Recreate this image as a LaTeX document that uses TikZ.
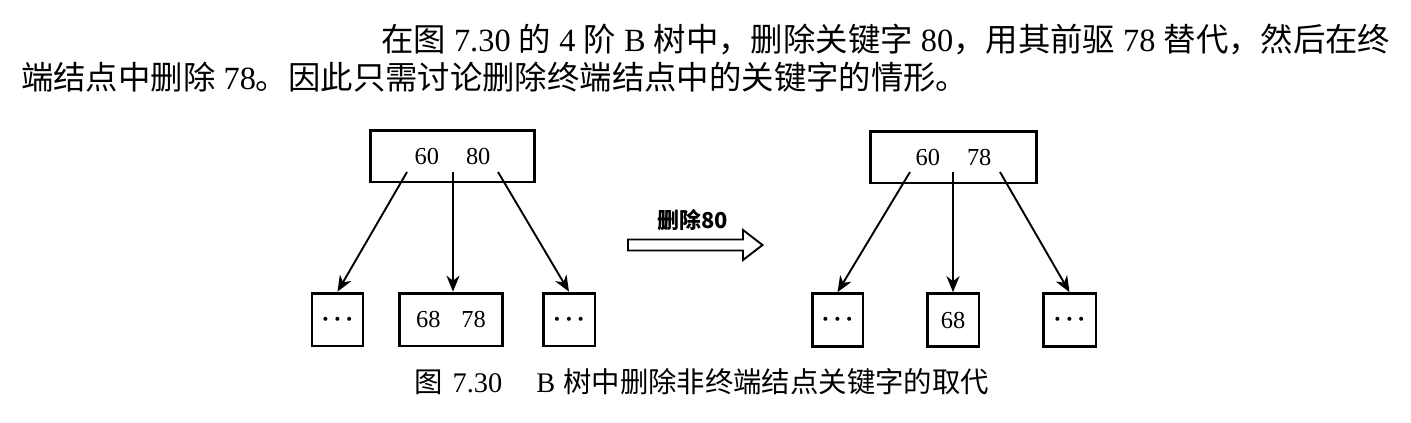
\documentclass[tikz,border=0pt]{standalone}
\usepackage{fontspec}
\setmainfont{Liberation Serif}
\newfontfamily\cjk{Noto Sans CJK SC}
\usetikzlibrary{arrows.meta}
\newcommand\mydots{{\fontsize{34}{34}\selectfont\raisebox{-10.5bp}[0pt][0pt]{·\kern0.6bp·\kern0.6bp·}}}
\begin{document}
\begin{tikzpicture}[x=1bp,y=-1bp,
  box/.style={draw, line width=2.8bp, inner sep=0pt, font=\fontsize{24.5}{28}\selectfont},
  link/.style={line width=1.9bp, -{Stealth[length=16bp,width=13bp,inset=5bp]}},
  bodytext/.style={inner sep=0pt, anchor=base west, font=\fontsize{32.5}{38}\selectfont},
  captext/.style={inner sep=0pt, anchor=base west, font=\fontsize{28.5}{32}\selectfont},
  hollow/.style={draw, line width=1.9bp, line join=miter}]
\useasboundingbox (0,0) rectangle (1411,422);

% paragraph
\node[bodytext] (t1) at (381,51.5) {{\cjk 在图} 7.30 {\cjk 的} 4 {\cjk 阶} B {\cjk 树中，删除关键字} 80{\cjk ，用其前驱} 78 {\cjk 替代，然后在终}};
\node[bodytext] (t2) at (21,89) {{\cjk 端结点中删除} 78{\cjk 。因此只需讨论删除终端结点中的关键字的情形。}};

% left tree
\node[box, minimum width=165, minimum height=52] (L0) at (452.5,156) {60\hspace{27bp}80};
\node[box, minimum width=51, minimum height=53] (L1) at (337.5,319.5) {\mydots};
\node[box, minimum width=104, minimum height=53] (L2) at (451,319.5) {68\hspace{21bp}78};
\node[box, minimum width=52, minimum height=53] (L3) at (569,319.5) {\mydots};
\coordinate (la) at (407,172);
\coordinate (lb) at (453,172);
\coordinate (lc) at (498,172);
\draw[link] (la) -- (L1.north);
\draw[link] (lb) -- (L2.north -| lb);
\draw[link] (lc) -- (L3.north);

% transition
\node[font=\cjk\bfseries\fontsize{22}{24}\selectfont, inner sep=0pt] (lbl) at (693,220) {删除80};
\draw[hollow] (628,239.5) -- (743,239.5) -- (743,230) -- (762.5,245) -- (743,260) -- (743,250.5) -- (628,250.5) -- cycle;

% right tree
\node[box, minimum width=167, minimum height=52] (R0) at (953.5,157) {60\hspace{27bp}78};
\node[box, minimum width=51, minimum height=53] (R1) at (837.5,320) {\mydots};
\node[box, minimum width=52, minimum height=53] (R2) at (953,320) {68};
\node[box, minimum width=53, minimum height=53] (R3) at (1069.5,320) {\mydots};
\coordinate (ra) at (910,172);
\coordinate (rb) at (953,172);
\coordinate (rc) at (1000,172);
\draw[link] (ra) -- (R1.north);
\draw[link] (rb) -- (R2.north);
\draw[link] (rc) -- (R3.north);

% caption
\node[captext] (cap) at (414,392) {{\cjk 图}\hspace{10bp}7.30\hspace{34bp}B\hspace{8bp}{\cjk 树中删除非终端结点关键字的取代}};
\end{tikzpicture}
\end{document}
